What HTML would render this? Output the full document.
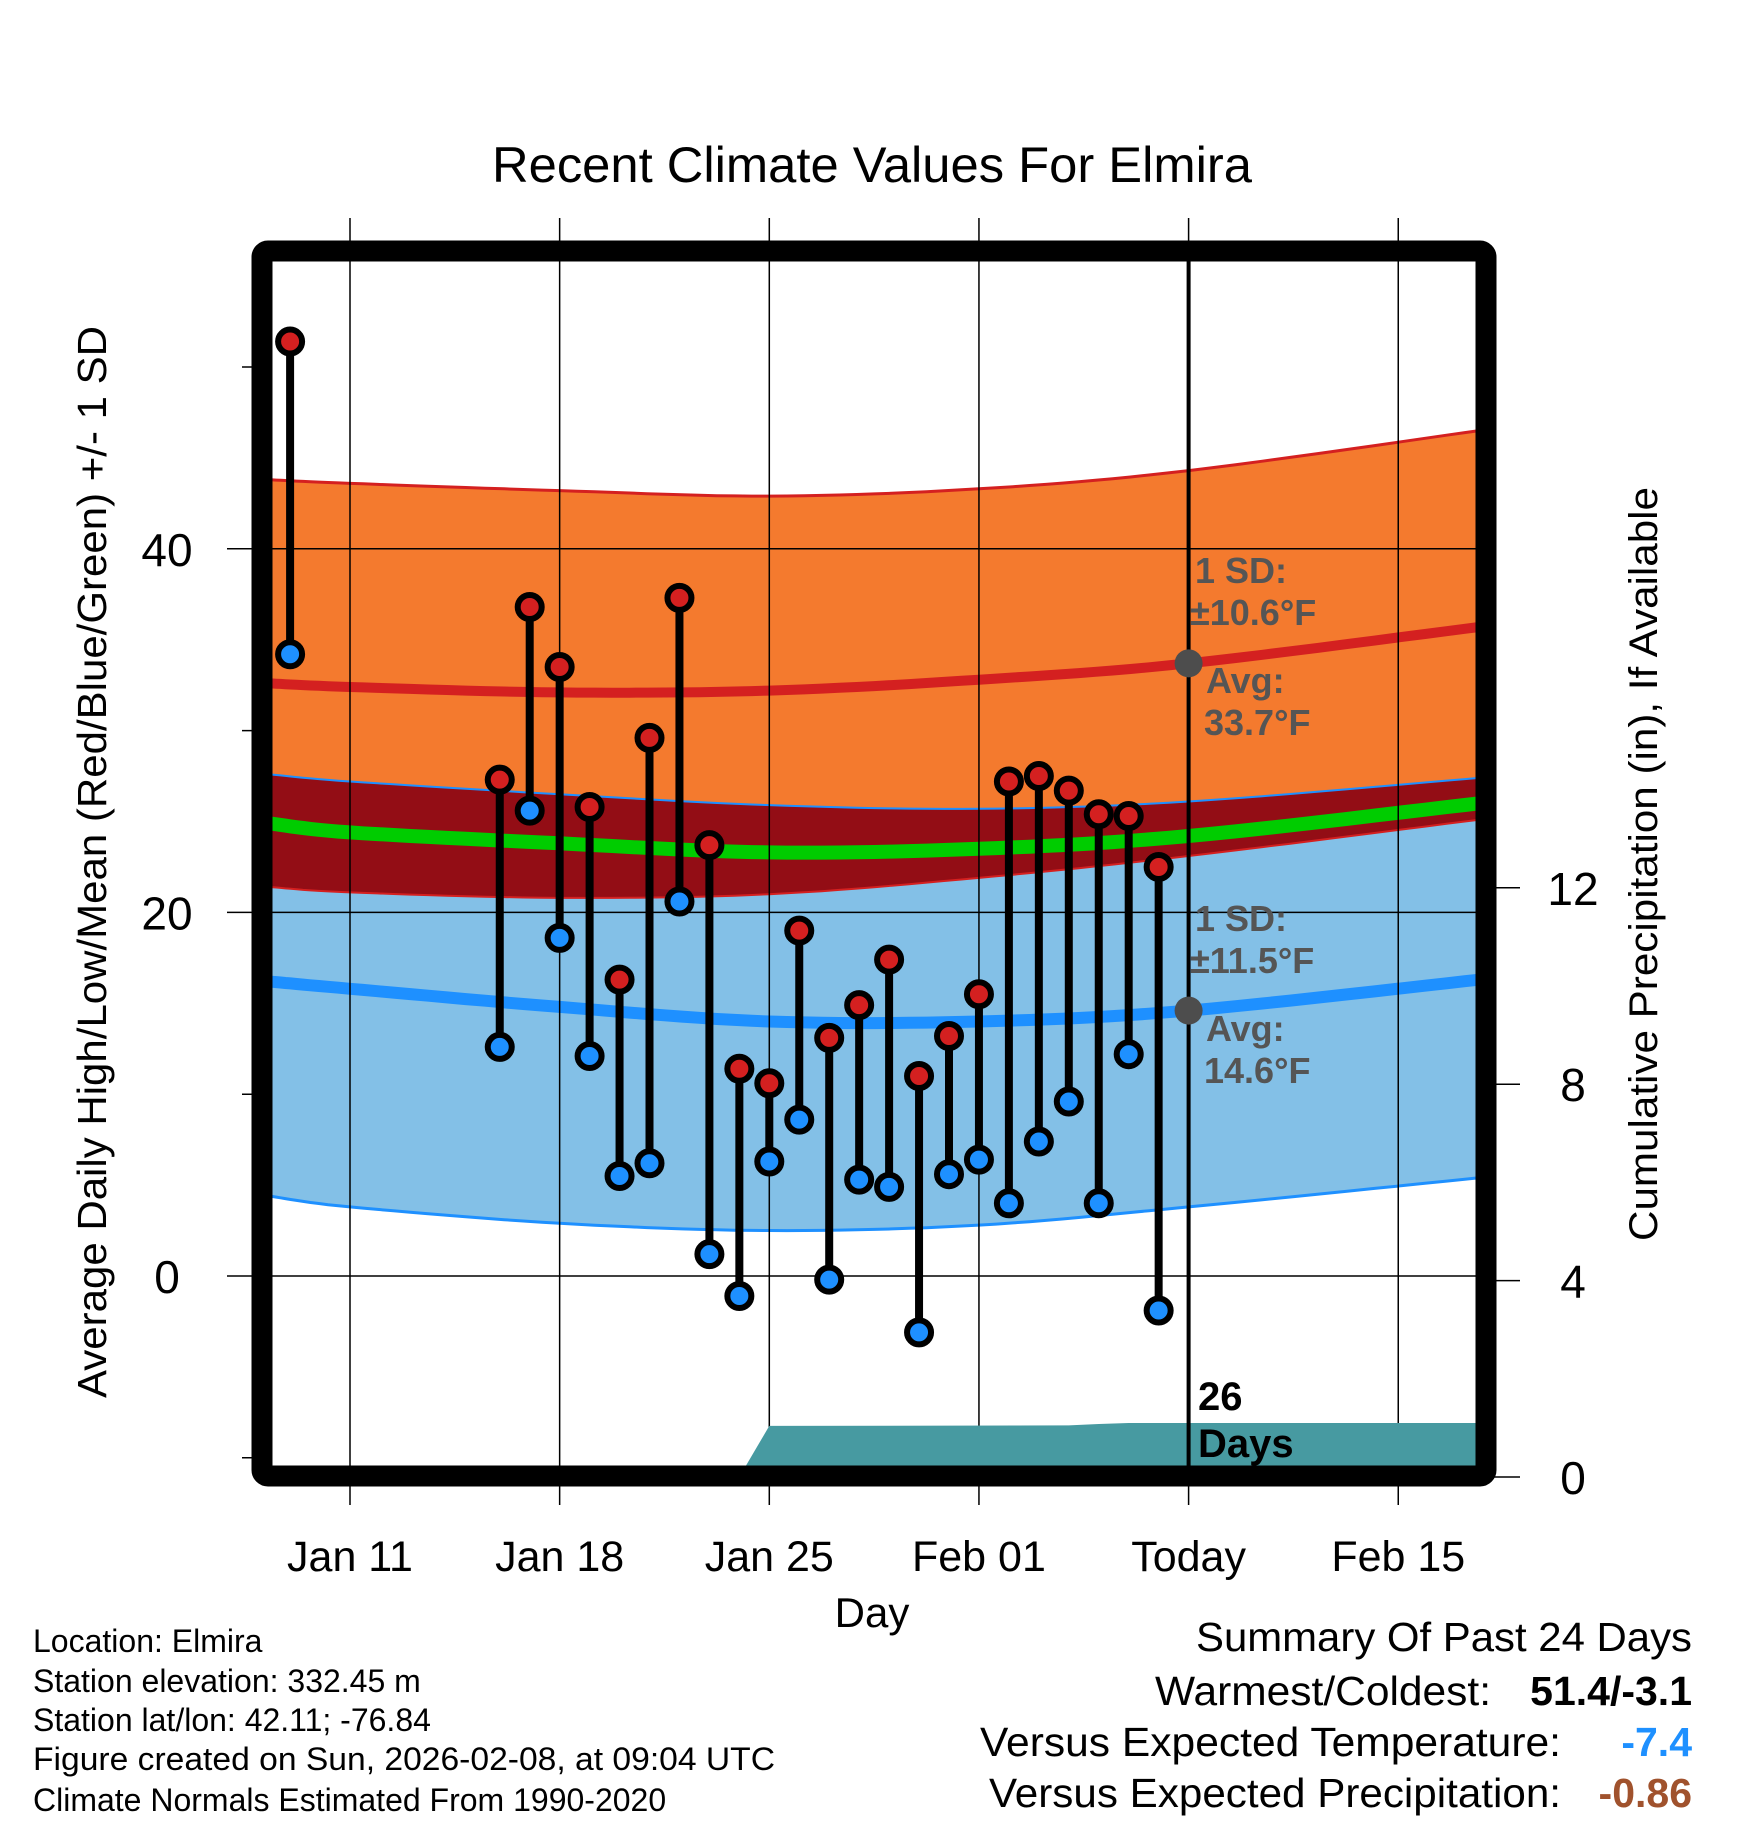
<!DOCTYPE html>
<html><head><meta charset="utf-8"><style>
html,body{margin:0;padding:0;background:#fff;}
svg{display:block;font-family:"Liberation Sans",Arial,sans-serif;}
</style></head><body>
<svg id="chart" width="1748" height="1828" viewBox="0 0 1748 1828" xmlns="http://www.w3.org/2000/svg">
<text x="872" y="182" font-size="50" text-anchor="middle" textLength="760" lengthAdjust="spacingAndGlyphs">Recent Climate Values For Elmira</text>
<g id="bands"></g>
<g id="grid"></g>
<g id="precip"></g>
<g id="marks"></g>
<g id="frameg"></g>
<g id="labels"></g>
<text transform="translate(106,862) rotate(-90)" font-size="41" text-anchor="middle" textLength="1072" lengthAdjust="spacingAndGlyphs">Average Daily High/Low/Mean (Red/Blue/Green) +/- 1 SD</text>
<text transform="translate(1657,864) rotate(-90)" font-size="40" text-anchor="middle" textLength="754" lengthAdjust="spacingAndGlyphs">Cumulative Precipitation (in), If Available</text>
<text x="872" y="1627" font-size="42" text-anchor="middle">Day</text>
<g font-size="32">
<text x="33" y="1652">Location: Elmira</text>
<text x="33" y="1692">Station elevation: 332.45 m</text>
<text x="33" y="1731">Station lat/lon: 42.11; -76.84</text>
<text x="33" y="1770" textLength="742" lengthAdjust="spacingAndGlyphs">Figure created on Sun, 2026-02-08, at 09:04 UTC</text>
<text x="33" y="1811">Climate Normals Estimated From 1990-2020</text>
</g>
<g font-size="41">
<text x="1692" y="1651" text-anchor="end" textLength="496" lengthAdjust="spacingAndGlyphs">Summary Of Past 24 Days</text>
<text x="1491" y="1705" text-anchor="end" textLength="336" lengthAdjust="spacingAndGlyphs">Warmest/Coldest:</text>
<text x="1692" y="1705" text-anchor="end" font-weight="bold">51.4/-3.1</text>
<text x="1561" y="1756" text-anchor="end" textLength="581" lengthAdjust="spacingAndGlyphs">Versus Expected Temperature:</text>
<text x="1692" y="1756" text-anchor="end" font-weight="bold" fill="#1e90ff">-7.4</text>
<text x="1561" y="1807" text-anchor="end" textLength="572" lengthAdjust="spacingAndGlyphs">Versus Expected Precipitation:</text>
<text x="1692" y="1807" text-anchor="end" font-weight="bold" fill="#a0522d">-0.86</text>
</g>
</svg>
<script>
// ---- data ----
const obsDays = [-2,5,6,7,8,9,10,11,12,13,14,15,16,17,18,19,20,21,22,23,24,25,26,27];
const highs = [51.4,27.3,36.8,33.5,25.8,16.3,29.6,37.3,23.7,11.4,10.6,19.0,13.1,14.9,17.4,11.0,13.2,15.5,27.2,27.5,26.7,25.4,25.3,22.5];
const lows = [34.2,12.6,25.6,18.6,12.1,5.5,6.2,20.6,1.2,-1.1,6.3,8.6,-0.2,5.3,4.9,-3.1,5.6,6.4,4.0,7.4,9.6,4.0,12.2,-1.9];
const normDays = [-2.7,0,7,14,21,28,37.7];
const highUp = [43.8,43.6,43.2,42.9,43.3,44.3,46.5];
const highMean = [32.6,32.4,32.1,32.2,32.8,33.7,35.7];
const highLo = [21.4,21.1,20.8,21.0,21.9,23.1,25.1];
const lowUp = [27.6,27.2,26.5,25.9,25.7,26.1,27.4];
const lowMean = [16.2,15.8,14.8,14.0,14.0,14.6,16.3];
const lowLo = [4.4,3.8,2.9,2.5,2.8,3.8,5.4];
const meanLine = [24.9,24.4,23.8,23.3,23.5,24.2,26.0];
const precipDays = [13,14,24,25,26,27,37.7];
const precipCum = [0,1.04,1.05,1.08,1.1,1.1,1.1];
const xTickDays = [0,7,14,21,28,35];
const xTickLabels = ["Jan 11","Jan 18","Jan 25","Feb 01","Today","Feb 15"];
const yTicks = [0,20,40];
const yMinor = [-10,10,30,50];
const y2Ticks = [0,4,8,12];
const todayDay = 28;

// ---- axes ----
const X0=270,X1=1480,Y0=260,Y1=1467;
const xs = d => 350 + 29.95*d;
const ys = t => 1276 - 18.18*t;
const yp = p => 1477 - 49.1*p;
const NS="http://www.w3.org/2000/svg";
function mk(tag,attrs,parent){const e=document.createElementNS(NS,tag);for(const k in attrs)e.setAttribute(k,attrs[k]);parent.appendChild(e);return e;}
function curve(vals){
  const pts=[];
  const n=normDays.length;
  for(let i=0;i<n-1;i++){
    const p0=i>0?i-1:i,p3=i+2<n?i+2:i+1;
    for(let s=0;s<12;s++){
      const t=s/12,t2=t*t,t3=t2*t;
      const f=(a,b,c,d)=>0.5*((2*b)+(-a+c)*t+(2*a-5*b+4*c-d)*t2+(-a+3*b-3*c+d)*t3);
      pts.push([xs(f(normDays[p0],normDays[i],normDays[i+1],normDays[p3])),ys(f(vals[p0],vals[i],vals[i+1],vals[p3]))]);
    }
  }
  pts.push([xs(normDays[n-1]),ys(vals[n-1])]);
  return pts;
}
const ps = a => a.map(p=>p[0].toFixed(1)+","+p[1].toFixed(1)).join(" ");
function band(up,lo,fill,name,g){
  const u=curve(up),l=curve(lo).reverse();
  const e=mk('polygon',{points:ps(u.concat(l)),fill:fill},g);
  
  
}
function line(vals,color,w,name,g){
  const e=mk('polyline',{points:ps(curve(vals)),fill:'none',stroke:color,'stroke-width':w},g);
  
  
}
const bands=document.getElementById('bands');
const clip=mk('clipPath',{id:'pc'},bands);mk('rect',{x:X0,y:Y0,width:X1-X0,height:Y1-Y0},clip);
const bg=mk('g',{'clip-path':'url(#pc)'},bands);
band(highUp,highLo,'#f47a2e','high-sd-band',bg);
band(lowUp,lowLo,'#83c0e7','low-sd-band',bg);
band(lowUp,highLo,'#930d15','overlap-band',bg);
line(highUp,'#d42020',3,'high-upper-line',bg);
line(highLo,'#d42020',2,'high-lower-line',bg);
line(lowUp,'#1e90ff',2,'low-upper-line',bg);
line(lowLo,'#1e90ff',3,'low-lower-line',bg);
line(meanLine,'#00cc00',14,'mean-line',bg);
line(highMean,'#d42020',10,'high-mean-line',bg);
line(lowMean,'#1e90ff',12,'low-mean-line',bg);

// grid
const grid=document.getElementById('grid');
xTickDays.forEach((d,i)=>{
  const gl=mk('line',{x1:xs(d),x2:xs(d),y1:218,y2:1505,stroke:'#000','stroke-width':1.5},grid);
  
  
  const t=mk('text',{x:xs(d),y:1571,'font-size':43,'text-anchor':'middle'},grid);
  t.textContent=xTickLabels[i];
  
  
});
yTicks.forEach(v=>{
  const gl=mk('line',{x1:227,x2:X1,y1:ys(v),y2:ys(v),stroke:'#000','stroke-width':1.5},grid);
  
  
  const t=mk('text',{x:167,y:ys(v)+17,'font-size':46,'text-anchor':'middle'},grid);
  t.textContent=v;
  
  
});
yMinor.forEach(v=>{
  const m=mk('line',{x1:242,x2:260,y1:ys(v),y2:ys(v),stroke:'#000','stroke-width':1.5},grid);
  
  
});
y2Ticks.forEach(v=>{
  const m=mk('line',{x1:1490,x2:1520,y1:yp(v),y2:yp(v),stroke:'#000','stroke-width':1.5},grid);
  
  
  const t=mk('text',{x:1573,y:yp(v)+17,'font-size':46,'text-anchor':'middle'},grid);
  t.textContent=v;
  
  
});

// precip
const pg=document.getElementById('precip');
{
  let pts=precipDays.map((d,i)=>[xs(d),yp(precipCum[i])]);
  pts.push([xs(precipDays[precipDays.length-1]),yp(0)]);
  const pa=mk('polygon',{points:ps(pts),fill:'#479aa1','clip-path':'url(#pc)'},pg);
  
  
}

// marks
const mg=document.getElementById('marks');
obsDays.forEach((d,i)=>{
  const x=xs(d);
  const st=mk('line',{x1:x,x2:x,y1:ys(highs[i]),y2:ys(lows[i]),stroke:'#000','stroke-width':8},mg);
  
  
  [[highs[i],'#d42020','high-point'],[lows[i],'#1e90ff','low-point']].forEach(([v,c,n])=>{
    const ci=mk('circle',{cx:x,cy:ys(v),r:12,fill:c,stroke:'#000','stroke-width':6},mg);
    
    
  });
});
const tl=mk('line',{x1:xs(todayDay),x2:xs(todayDay),y1:Y0,y2:Y1,stroke:'#000','stroke-width':4},mg);


const hi=highMean[5],lo=lowMean[5];
[[hi,'today-high-avg-dot'],[lo,'today-low-avg-dot']].forEach(([v,n])=>{
  const c=mk('circle',{cx:xs(todayDay),cy:ys(v),r:14,fill:'#4d4d4d'},mg);
  
  
});

// frame
const fr=mk('rect',{x:262,y:251,width:1224,height:1225,rx:6,fill:'none',stroke:'#000','stroke-width':21},document.getElementById('frameg'));



// labels
const lg=document.getElementById('labels');
function lab(x,y,txt,fill,name,size){
  const t=mk('text',{x:x,y:y,'font-size':size||36,'font-weight':'bold',fill:fill},lg);
  t.textContent=txt;
  
  
}
lab(1195,583,'1 SD:','#555','high-sd-label');
lab(1190,625,'\u00b110.6\u00b0F','#555','high-sd-value');
lab(1206,693,'Avg:','#555','high-avg-label');
lab(1204,735,'33.7\u00b0F','#555','high-avg-value');
lab(1195,931,'1 SD:','#555','low-sd-label');
lab(1190,973,'\u00b111.5\u00b0F','#555','low-sd-value');
lab(1206,1041,'Avg:','#555','low-avg-label');
lab(1204,1083,'14.6\u00b0F','#555','low-avg-value');
lab(1198,1410,'26','#000','days-count',40);
lab(1198,1457,'Days','#000','days-label',40);
</script>
</body></html>
